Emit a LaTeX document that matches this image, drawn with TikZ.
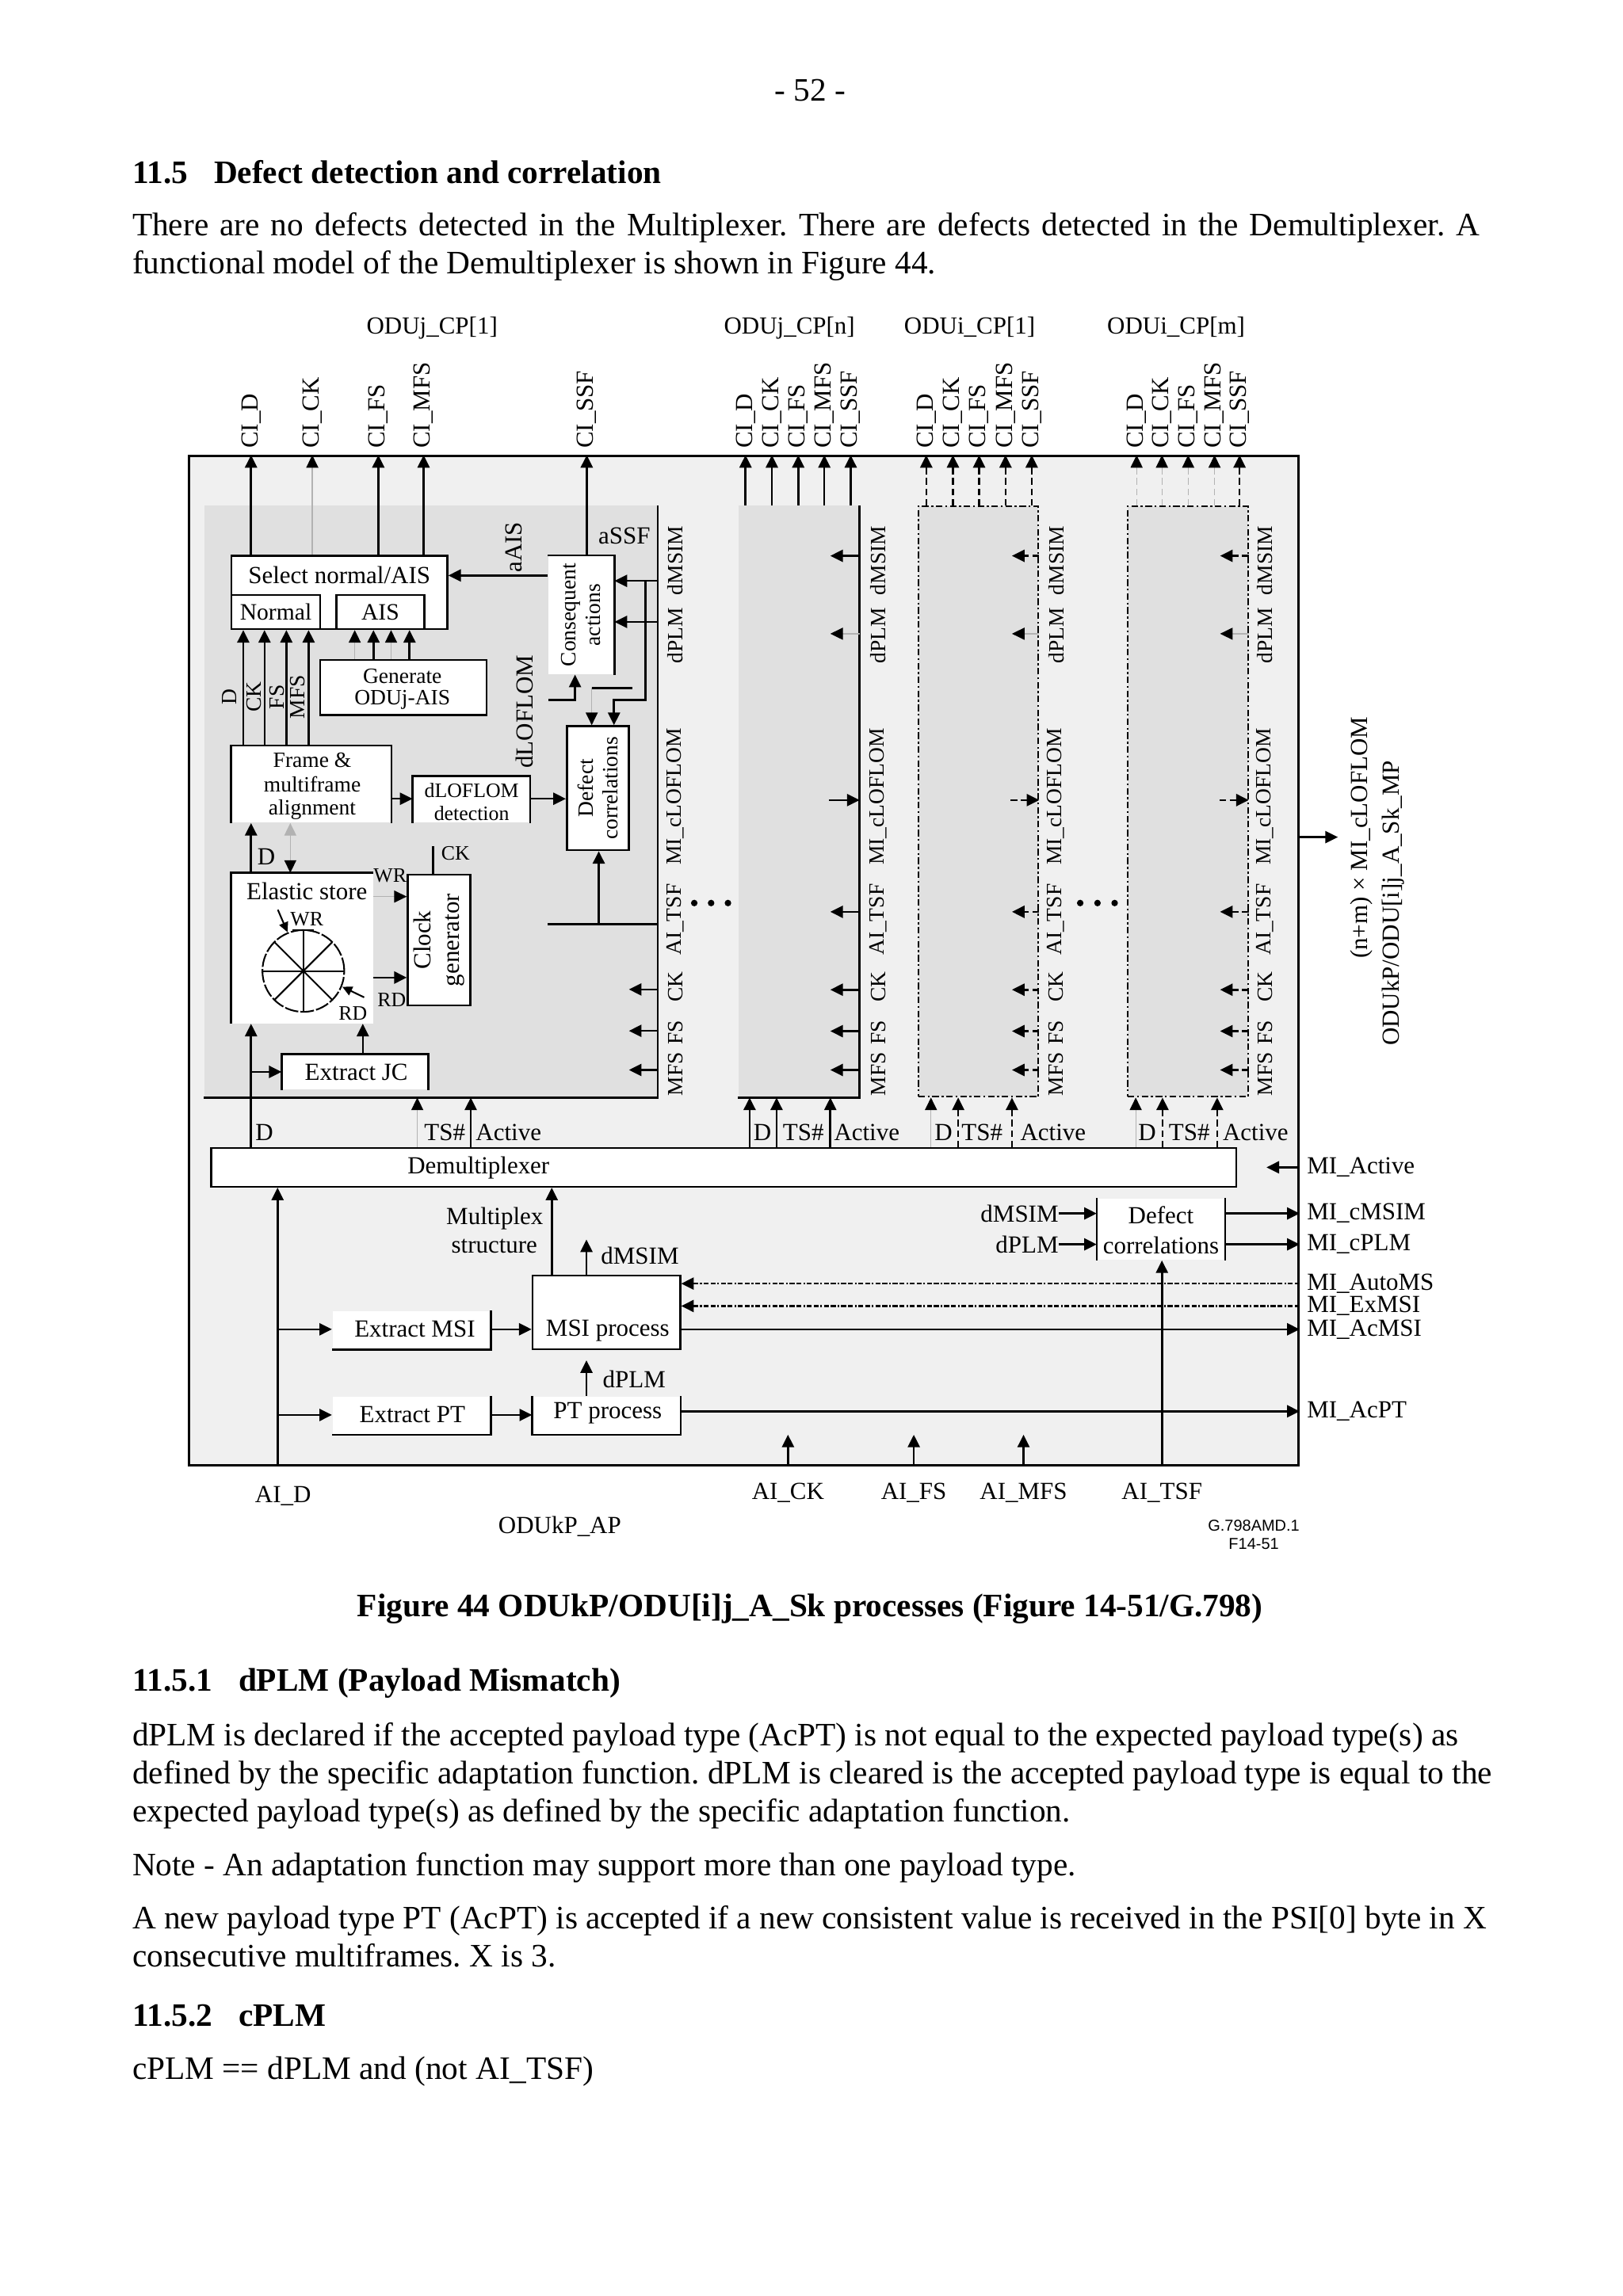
\documentclass[tikz,border=0pt]{standalone}
\usepackage{fontspec}
\setmainfont{Liberation Serif}
\newfontfamily\arialf{Liberation Sans}
\usetikzlibrary{arrows.meta,fit,calc}
\definecolor{bgout}{RGB}{240,240,240}
\definecolor{bgin}{RGB}{224,224,224}
\frenchspacing
\tikzset{
  ln/.style={line width=0.75pt, draw=black},
  ar/.style={ln, ->},
  gln/.style={line width=0.35pt, draw=black!30},
  gar/.style={line width=0.35pt, draw=black!30, -{Triangle[length=4.6pt,width=4.4pt,color=black]}},
  gdar/.style={line width=0.35pt, draw=black!30, -{Triangle[length=4.6pt,width=4.4pt,color=black]}, <-{Triangle[length=4.6pt,width=4.4pt,color=black]}},
  dsh/.style={dash pattern=on 2.4pt off 1.4pt},
  ddot/.style={dash pattern=on 2.4pt off 1pt on 0.7pt off 1pt},
  mdot/.style={dash pattern=on 1.8pt off 0.7pt on 1.8pt off 0.7pt on 0.6pt off 0.7pt},
  bx/.style={draw=black, line width=0.75pt, fill=white, inner sep=0pt},
  wf/.style={fill=white, inner sep=0pt},
  t9/.style={font=\fontsize{9}{10}\selectfont, inner sep=0pt},
  t86/.style={font=\fontsize{8.6}{9.6}\selectfont, inner sep=0pt},
  t8/.style={font=\fontsize{8}{9}\selectfont, inner sep=0pt, align=center},
  t7/.style={font=\fontsize{7.5}{8.5}\selectfont, inner sep=0pt},
  body/.style={font=\fontsize{12}{14}\selectfont, inner sep=0pt, anchor=base west},
  bodyb/.style={font=\fontsize{12}{14}\selectfont\bfseries, inner sep=0pt, anchor=base west},
}
\begin{document}
\begin{tikzpicture}[x={(0.537pt,0)},y={(0,-0.537pt)},>={Triangle[length=4.6pt,width=4.4pt]}]
\fill[white] (0,0) rectangle (1108,1568);
\useasboundingbox (0,0) rectangle (1108,1568);

% ---------------- page text ----------------
\node[font=\fontsize{12}{14}\selectfont, inner sep=0pt, anchor=base] (pnum) at (553,69) {- 52 -};
\node[bodyb] (h1) at (90,125) {11.5\hspace{0.8em}Defect detection and correlation};
\node[body] (p1) at (90,161) {\makebox[494pt][s]{There are no defects detected in the Multiplexer. There are defects detected in the Demultiplexer. A}};
\node[body] (p2) at (90,187) {functional model of the Demultiplexer is shown in Figure 44.};

\node[font=\fontsize{12}{14}\selectfont\bfseries, inner sep=0pt, anchor=base] (cap) at (553,1104) {Figure 44 ODUkP/ODU[i]j\_A\_Sk processes (Figure 14-51/G.798)};
\node[bodyb] (h2) at (90,1155) {11.5.1\hspace{0.8em}dPLM (Payload Mismatch)};
\node[body] (q1) at (90,1192) {dPLM is declared if the accepted payload type (AcPT) is not equal to the expected payload type(s) as};
\node[body] (q2) at (90,1218) {defined by the specific adaptation function. dPLM is cleared is the accepted payload type is equal to the};
\node[body] (q3) at (90,1244) {expected payload type(s) as defined by the specific adaptation function.};
\node[body] (q4) at (90,1281) {Note - An adaptation function may support more than one payload type.};
\node[body] (q5) at (90,1317) {A new payload type PT (AcPT) is accepted if a new consistent value is received in the PSI[0] byte in X};
\node[body] (q6) at (90,1343) {consecutive multiframes. X is 3.};
\node[bodyb] (h3) at (90,1384) {11.5.2\hspace{0.8em}cPLM};
\node[body] (q7) at (90,1420) {cPLM == dPLM and (not AI\_TSF)};

% ---------------- frame and blocks ----------------
\node[draw,line width=0.75pt,fill=bgout,inner sep=0pt,fit={(129,311.5) (886.6,1000.7)}] (outer) {};
\node[fill=bgin,inner sep=0pt,fit={(139.6,345.4) (448.6,749.2)}] (blk1) {};
\draw[ln] (blk1.north east) -- (blk1.south east) -- (blk1.south west);
\node[fill=bgin,inner sep=0pt,fit={(504,345.4) (586.5,749.2)}] (blk2) {};
\draw[ln] (blk2.north east) -- (blk2.south east) -- (blk2.south west);
\node[fill=bgin,draw,line width=0.6pt,ddot,inner sep=0pt,fit={(627,345.7) (709,749)}] (blk3) {};
\node[fill=bgin,draw,line width=0.6pt,ddot,inner sep=0pt,fit={(770,345.7) (852,749)}] (blk4) {};

% top titles
\node[t9,anchor=base] (tj1) at (295,228) {ODUj\_CP[1]};
\node[t9,anchor=base] (tjn) at (539,228) {ODUj\_CP[n]};
\node[t9,anchor=base] (ti1) at (662,228) {ODUi\_CP[1]};
\node[t9,anchor=base] (tim) at (803,228) {ODUi\_CP[m]};

% CI labels
\foreach \x/\t in {171.4/CI\_D,213.2/CI\_CK,258.3/CI\_FS,289.2/CI\_MFS,400.6/CI\_SSF,
  509/CI\_D,527/CI\_CK,545/CI\_FS,562.8/CI\_MFS,580.8/CI\_SSF,
  632.4/CI\_D,650.6/CI\_CK,668.5/CI\_FS,686.5/CI\_MFS,704.4/CI\_SSF,
  776/CI\_D,793.3/CI\_CK,811.2/CI\_FS,829.2/CI\_MFS,846.3/CI\_SSF}
  \node[t9,rotate=90,anchor=west] at (\x,306.6) {\t};

% block column labels
\foreach \cx in {461,599.6,721,863.7} {
  \node[t8,rotate=90] at (\cx,382.8) {dMSIM};
  \node[t8,rotate=90] at (\cx,434) {dPLM};
  \node[t8,rotate=90] at (\cx,544) {MI\_cLOFLOM};
  \node[t8,rotate=90] at (\cx,628) {AI\_TSF};
  \node[t8,rotate=90] at (\cx,674) {CK};
  \node[t8,rotate=90] at (\cx,705) {FS};
  \node[t8,rotate=90] at (\cx,733.5) {MFS};
}
\foreach \x in {474,485.5,497,737.5,749.3,761}
  \fill (\x,616.7) circle[radius=1.2pt];

% ---------------- block 1 internals ----------------
\node[bx,fit={(158.1,379.6) (305.4,429.6)}] (sel) {};
\node[bx,fit={(158.1,406.3) (218.5,429.6)}] (nor) {};
\node[bx,fit={(229.6,406.3) (289.7,429.6)}] (ais) {};
\node[t9] at (231.7,392.8) {Select normal/AIS};
\node[t86] at (nor.center) {Normal};
\node[t86] at (ais.center) {AIS};

\node[wf,fit={(374.3,379.6) (419.2,460.4)}] (cons) {};
\draw[ln] (cons.north west) -- (cons.north east) -- (cons.south east);
\node[t8,rotate=90] at (cons.center) {Consequent\\actions};

\node[bx,fit={(218.5,450.8) (332.2,488.2)}] (gen) {};
\node[t8] at (274.7,461.7) {Generate};
\node[t8] at (274.7,477.9) {ODUj-AIS};

\node[wf,fit={(158.1,509.4) (266.8,561.7)}] (frm) {};
\draw[ln] (frm.south west) -- (frm.north west) -- (frm.north east) -- (frm.south east);
\node[t8] at (213.2,519.4) {Frame \&};
\node[t8] at (213.2,535.6) {multiframe};
\node[t8] at (213.2,552.7) {alignment};

\node[wf,fit={(282,530.2) (361.7,561.7)}] (ldet) {};
\draw[ln] (ldet.south west) -- (ldet.north west) -- (ldet.north east) -- (ldet.south east);
\node[t7] at (322,540) {dLOFLOM};
\node[t7] at (322,555.4) {detection};

\node[bx,fit={(387,495.9) (429.3,580.6)}] (dc1) {};
\node[t8,rotate=90] at (dc1.center) {Defect\\correlations};

\node[wf,fit={(158.1,596.4) (254.7,698.8)}] (es) {};
\draw[ln] (es.south west) -- (es.north west) -- (es.north east);
\node[t9] at (209.5,608.6) {Elastic store};

\node[bx,fit={(278.4,597.3) (321.1,686.7)}] (clk) {};
\node[font=\fontsize{9}{10.5}\selectfont,inner sep=0pt,rotate=90,align=center] at (clk.center) {Clock\\generator};

\node[wf,fit={(192.6,720.4) (292.1,743.9)}] (ejc) {};
\draw[ln] (ejc.south west) -- (ejc.north west) -- (ejc.north east) -- (ejc.south east);
\node[t9] at (243.3,732.2) {Extract JC};

% CI outputs block 1
\foreach \x in {171.4,258.3,289.2}
  \draw[ar] (\x,0 |- sel.north) -- (\x,0 |- outer.north);
\draw[gar] (213.2,0 |- sel.north) -- (213.2,0 |- outer.north);
\draw[ar] (400.6,0 |- cons.north) -- (400.6,0 |- outer.north);
\node[t9,rotate=90] at (350.8,373.8) {aAIS};
\node[t9] at (426.3,366) {aSSF};
\draw[ar] (cons.west |- 0,393) -- (sel.east |- 0,393);

% dMSIM / dPLM into consequent actions
\draw[ar] (blk1.east |- 0,396.7) -- (cons.east |- 0,396.7);
\draw[ar] (blk1.east |- 0,424.7) -- (cons.east |- 0,424.7);
\draw[ar] (440.7,396.7) -- (440.7,477.9) -- (419.2,477.9) -- (419.2,0 |- dc1.north);
\draw[ln] (404,469.8) -- (431.7,469.8);
\draw[gar] (404,469.8) -- (404,0 |- dc1.north);
\node[t9,rotate=90] at (358,486) {dLOFLOM};
\draw[ar] (374.3,477.9) -- (392.6,477.9) -- (392.6,0 |- cons.south);

% frame to normal
\foreach \x in {166.1,180.6,195.5,210.7}
  \draw[ar] (\x,0 |- frm.north) -- (\x,0 |- nor.south);
\node[t8,rotate=90] at (156.4,476) {D};
\node[t8,rotate=90] at (173.4,476) {CK};
\node[t8,rotate=90] at (189,476) {FS};
\node[t8,rotate=90] at (203.4,476) {MFS};
% generate to AIS
\foreach \x in {255,279.6}
  \draw[ar] (\x,0 |- gen.north) -- (\x,0 |- ais.south);
\foreach \x in {242.2,267}
  \draw[gar] (\x,0 |- gen.north) -- (\x,0 |- ais.south);

\draw[ar] (frm.east |- 0,545.5) -- (ldet.west |- 0,545.5);
\draw[ar] (ldet.east |- 0,545.5) -- (dc1.west |- 0,545.5);

% AI_TSF into defect correlations
\draw[ln] (374,631) -- (blk1.east |- 0,631);
\draw[ar] (408.8,631) -- (408.8,0 |- dc1.south);

% elastic store to frame
\draw[ar] (171.4,0 |- es.north) -- (171.4,0 |- frm.south);
\node[t9] at (181.8,585) {D};
\draw[gdar] (198.2,0 |- frm.south) -- (198.2,0 |- es.north);
\draw[ln] (295.8,578) -- (295.8,0 |- clk.north);
\node[t7] at (311,583) {CK};
\node[t7] at (266.3,597.8) {WR};
\draw[gar] (es.east |- 0,612.3) -- (clk.west |- 0,612.3);
\draw[ar] (255,667.6) -- (clk.west |- 0,667.6);
\node[t7] at (267.5,682.6) {RD};

% wheel
\coordinate (wc) at (207.1,663.1);
\draw[line width=0.6pt, dash pattern=on 5pt off 0.8pt] (wc) circle[radius=15pt];
\foreach \a in {0,45,...,315}
  \draw[line width=0.6pt] (wc) -- +(\a:15pt);
\draw[line width=0.6pt] (199.9,635.4) -- (214.4,635.4);
\draw[line width=0.6pt,-{Triangle[length=3.6pt,width=3.4pt]}] (189.7,621.3) -- (196.3,636.6);
\node[t7] at (209.5,627.6) {WR};
\draw[line width=0.6pt,-{Triangle[length=3.6pt,width=3.4pt]}] (248.6,681.1) -- (233.7,673.9);
\node[t7] at (240.9,692.1) {RD};

% block 1 input rows CK FS MFS
\foreach \y in {675.7,704,730.7}
  \draw[ar] (blk1.east |- 0,\y) -- (429.4,\y);

% demultiplexer
\node[bx,fit={(144.3,784.1) (844,810.4)}] (dmx) {};
\node[t9] at (326.7,797.3) {Demultiplexer};

% D line, extract JC
\draw[ar] (171.4,0 |- dmx.north) -- (171.4,0 |- es.south);
\draw[ar] (171.4,732) -- (ejc.west |- 0,732);
\draw[ar] (247.7,0 |- ejc.north) -- (247.7,0 |- es.south);
\draw[gar] (284.9,0 |- dmx.north) -- (284.9,0 |- blk1.south);
\draw[ar] (321.4,0 |- dmx.north) -- (321.4,0 |- blk1.south);
\node[t9] at (180.5,773.6) {D};
\node[t9] at (303.7,773.6) {TS\#};
\node[t9] at (347.2,773.6) {Active};

% ---------------- block 2 ----------------
\foreach \x in {509,527,545,562.8,580.8}
  \draw[ar] (\x,0 |- blk2.north) -- (\x,0 |- outer.north);
\foreach \y in {379.6,622.7,675.9,704.2,730.7}
  \draw[ar] (blk2.east |- 0,\y) -- (566.9,\y);
\draw[gar] (blk2.east |- 0,432.8) -- (566.9,432.8);
\draw[ar] (566,546.4) -- (blk2.east |- 0,546.4);
\foreach \x in {511.8,530.2,566.9}
  \draw[ar] (\x,0 |- dmx.north) -- (\x,0 |- blk2.south);
\node[t9] at (520.5,773.6) {D};
\node[t9] at (548.5,773.6) {TS\#};
\node[t9] at (591.8,773.6) {Active};

% ---------------- block 3 ----------------
\foreach \x in {632.4,650.6,668.5,686.5,704.4}
  \draw[ar,dsh] (\x,0 |- blk3.north) -- (\x,0 |- outer.north);
\foreach \y in {379.6,622.7,675.9,704.2,730.7}
  \draw[ar,dsh] (blk3.east |- 0,\y) -- (690.9,\y);
\draw[gar] (blk3.east |- 0,432.8) -- (690.9,432.8);
\draw[ar,dsh] (690,546.4) -- (blk3.east |- 0,546.4);
\draw[gar] (635.6,0 |- dmx.north) -- (635.6,0 |- blk3.south);
\foreach \x in {654.2,690.9}
  \draw[ar,dsh] (\x,0 |- dmx.north) -- (\x,0 |- blk3.south);
\node[t9] at (644.2,773.6) {D};
\node[t9] at (670.5,773.6) {TS\#};
\node[t9] at (719,773.6) {Active};

% ---------------- block 4 ----------------
\foreach \x in {776,793.3,811.2,829.2}
  \draw[gar,dsh] (\x,0 |- blk4.north) -- (\x,0 |- outer.north);
\draw[ar,dsh] (846.3,0 |- blk4.north) -- (846.3,0 |- outer.north);
\foreach \y in {379.6,622.7,675.9,704.2,730.7}
  \draw[ar,dsh] (blk4.east |- 0,\y) -- (833,\y);
\draw[gar] (blk4.east |- 0,432.8) -- (833,432.8);
\draw[ar,dsh] (832.6,546.4) -- (blk4.east |- 0,546.4);
\draw[gar] (775.4,0 |- dmx.north) -- (775.4,0 |- blk4.south);
\foreach \x in {793.7,831}
  \draw[ar,dsh] (\x,0 |- dmx.north) -- (\x,0 |- blk4.south);
\node[t9] at (783.2,773.6) {D};
\node[t9] at (812,773.6) {TS\#};
\node[t9] at (857.2,773.6) {Active};

% right side MP
\draw[ar] (outer.east |- 0,571.7) -- (913.4,571.7);
\node[t9,rotate=90] at (929.7,572.1) {(n+m) × MI\_cLOFLOM};
\node[t9,rotate=90] at (951.3,616.8) {ODUkP/ODU[i]j\_A\_Sk\_MP};

% MI_Active
\draw[ar] (outer.east |- 0,797.2) -- (864.7,797.2);

% ---------------- lower part ----------------
\node[wf,fit={(227,895.4) (334.7,921.4)}] (emsi) {};
\draw[ln] (emsi.north east) -- (emsi.south east) -- (emsi.south west);
\node[t9] at (283.2,907.8) {Extract MSI};
\node[bx,fit={(363.6,871) (464.4,921.4)}] (msi) {};
\node[t9] at (414.9,908.9) {MSI process};
\node[wf,fit={(227,953.7) (334.7,979.4)}] (ept) {};
\draw[ln] (ept.north east) -- (ept.south east) -- (ept.south west);
\node[t9] at (281.5,966.3) {Extract PT};
\node[wf,fit={(363.6,953.7) (464.4,979.4)}] (ptp) {};
\draw[ln] (ptp.north west) -- (ptp.south west) -- (ptp.south east) -- (ptp.north east);
\node[t9] at (414.9,965.2) {PT process};

\draw[ar] (189.5,0 |- outer.south) -- (189.5,0 |- dmx.south);
\draw[ar] (189.5,907.8) -- (emsi.west |- 0,907.8);
\draw[ar] (189.5,966.3) -- (ept.west |- 0,966.3);
\draw[ar] (emsi.east |- 0,907.8) -- (msi.west |- 0,907.8);
\draw[ar] (ept.east |- 0,966.3) -- (ptp.west |- 0,966.3);

\draw[ar] (376.7,0 |- msi.north) -- (376.7,0 |- dmx.south);
\node[t9] at (337.8,832) {Multiplex};
\node[t9] at (337.5,851.3) {structure};
\draw[ar] (400.4,0 |- msi.north) -- (400.4,846.5);
\node[t9,anchor=west] at (410,857.5) {dMSIM};
\draw[ar] (400.4,0 |- ptp.north) -- (400.4,929);
\node[t9,anchor=west] at (411.2,942) {dPLM};

\draw[ar,mdot] (outer.east |- 0,876.6) -- (msi.east |- 0,876.6);
\draw[ar,mdot] (outer.east |- 0,891.9) -- (msi.east |- 0,891.9);
\draw[ar] (msi.east |- 0,907.8) -- (outer.east |- 0,907.8);
\draw[ar] (ptp.east |- 0,963.8) -- (outer.east |- 0,963.8);

\node[wf,fit={(749.1,818.5) (836.1,860.4)}] (dc2) {};
\draw[ln] (dc2.north west) -- (dc2.south west);
\draw[ln] (dc2.north east) -- (dc2.south east);
\node[t9] at (792.6,829.7) {Defect};
\node[t9] at (792.6,850.4) {correlations};
\node[t9,anchor=east] (lm) at (723,828.7) {dMSIM};
\node[t9,anchor=east] (lp) at (723,849.8) {dPLM};
\draw[ar] (lm.east) -- (dc2.west |- lm.east);
\draw[ar] (lp.east) -- (dc2.west |- lp.east);
\draw[ar] (dc2.east |- 0,828.7) -- (outer.east |- 0,828.7);
\draw[ar] (dc2.east |- 0,849.8) -- (outer.east |- 0,849.8);
\draw[ar] (793.3,0 |- outer.south) -- (793.3,0 |- dc2.south);

\foreach \x in {538,623.9,698.8}
  \draw[ar] (\x,0 |- outer.south) -- (\x,979.8);

% right labels
\node[t9,anchor=west] at (892,797.2) {MI\_Active};
\node[t9,anchor=west] at (892,828.7) {MI\_cMSIM};
\node[t9,anchor=west] at (892,849.8) {MI\_cPLM};
\node[t9,anchor=west] at (892,876.4) {MI\_AutoMS};
\node[t9,anchor=west] at (892,891.9) {MI\_ExMSI};
\node[t9,anchor=west] at (892,907.8) {MI\_AcMSI};
\node[t9,anchor=west] at (892,963.8) {MI\_AcPT};

% bottom labels
\node[t9] at (193.3,1021.4) {AI\_D};
\node[t9] at (538,1019.4) {AI\_CK};
\node[t9] at (623.9,1019.4) {AI\_FS};
\node[t9] at (698.8,1019.4) {AI\_MFS};
\node[t9] at (793.3,1019.4) {AI\_TSF};
\node[t9] at (382.2,1042.6) {ODUkP\_AP};
\node[font=\arialf\fontsize{5.8}{6.5}\selectfont,inner sep=0pt] at (856,1041.7) {G.798AMD.1};
\node[font=\arialf\fontsize{5.8}{6.5}\selectfont,inner sep=0pt] at (856,1054.2) {F14-51};
\end{tikzpicture}
\end{document}
